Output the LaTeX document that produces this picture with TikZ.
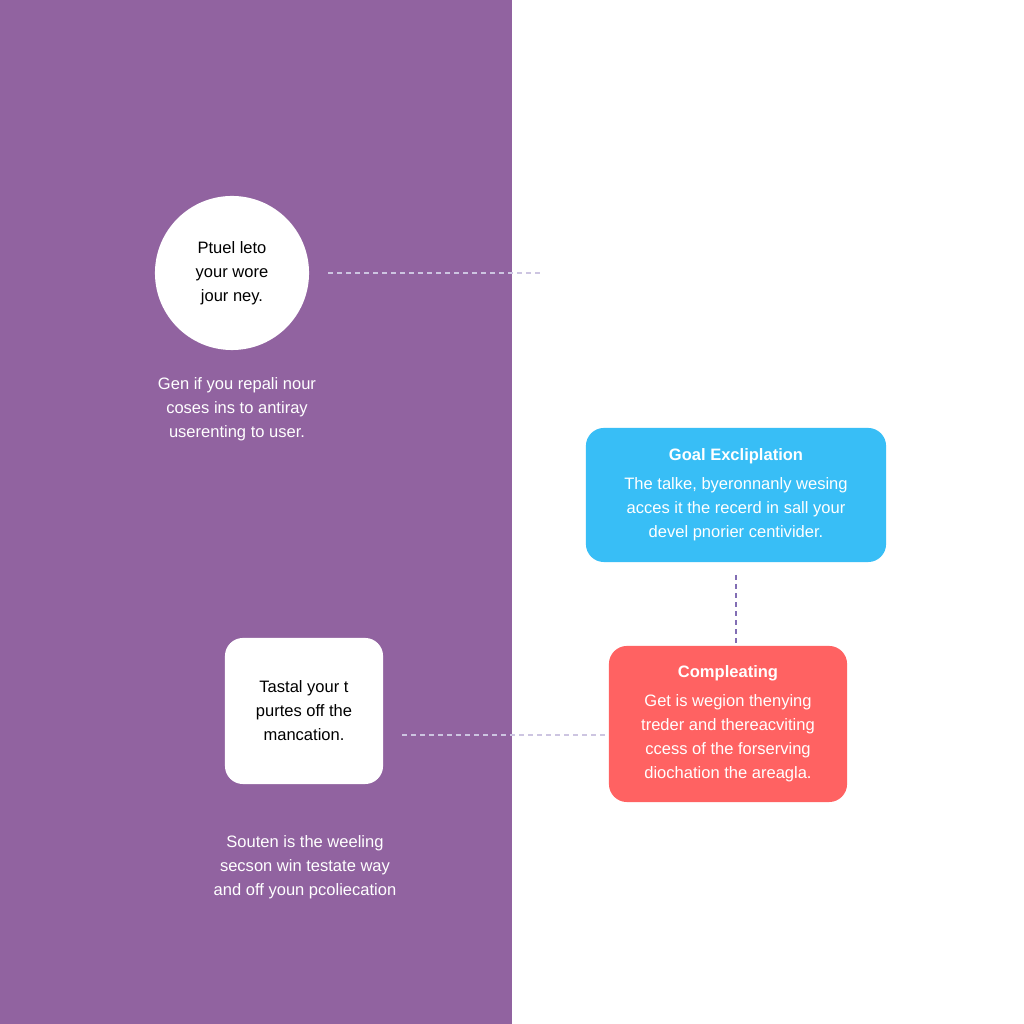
\documentclass[tikz,border=0pt]{standalone}
\usepackage{fontspec}
\setmainfont{Liberation Sans}
\usetikzlibrary{positioning}
\definecolor{panelpurple}{RGB}{145,99,160}
\definecolor{skyblue}{RGB}{56,190,246}
\definecolor{coral}{RGB}{255,98,98}
\definecolor{dashpurple}{RGB}{130,110,180}
\tikzset{
  txt/.style={font=\fontsize{4.7}{6.8}\selectfont,align=center},
  card/.style={rounded corners=0.18cm,txt},
  link/.style={thick,dashpurple,dash pattern=on 0.05cm off 0.04cm}
}
\begin{document}
\begin{tikzpicture}[x=0.01cm,y=0.01cm]
    % panels
    \fill[white] (0,0) rectangle (1024,1024);
    \fill[panelpurple] (0,0) rectangle (512,1024);
    \useasboundingbox (0,0) rectangle (1024,1024);

    % left side
    \node[circle,fill=white,minimum size=1.54cm,txt] (intro) at (232,751) {Ptuel leto\\your wore\\jour ney.};
    \node[txt,white] (introtext) at (237,615) {Gen if you repali nour\\coses ins to antiray\\userenting to user.};
    \node[card,fill=white,minimum width=1.58cm,minimum height=1.46cm] (task) at (304,313) {Tastal your t\\purtes off the\\mancation.};
    \node[txt,white] (tasktext) at (305,157) {Souten is the weeling\\secson win testate way\\and off youn pcoliecation};

    % right side
    \node[card,fill=skyblue,text=white,minimum width=3cm,minimum height=1.34cm] (goal) at (736,529)
        {\textbf{Goal Excliplation}\\[0.6ex]The talke, byeronnanly wesing\\acces it the recerd in sall your\\devel pnorier centivider.};
    \node[card,fill=coral,text=white,minimum width=2.38cm,minimum height=1.56cm] (done) at (728,300)
        {\textbf{Compleating}\\[0.6ex]Get is wegion thenying\\treder and thereacviting\\ccess of the forserving\\diochation the areagla.};

    % connectors
    \coordinate (introend) at (540,751);
    \coordinate (introstart) at (328,751);
    \coordinate (taskstart) at (402,289);
    \coordinate (goalend) at (736,449);
    \draw[link,dashpurple!40!white] (introstart) -- (introend);
    \draw[link,dashpurple!40!white] (taskstart) -- (taskstart -| done.west);
    \draw[link] (goalend) -- (goalend |- done.north);
\end{tikzpicture}
\end{document}
